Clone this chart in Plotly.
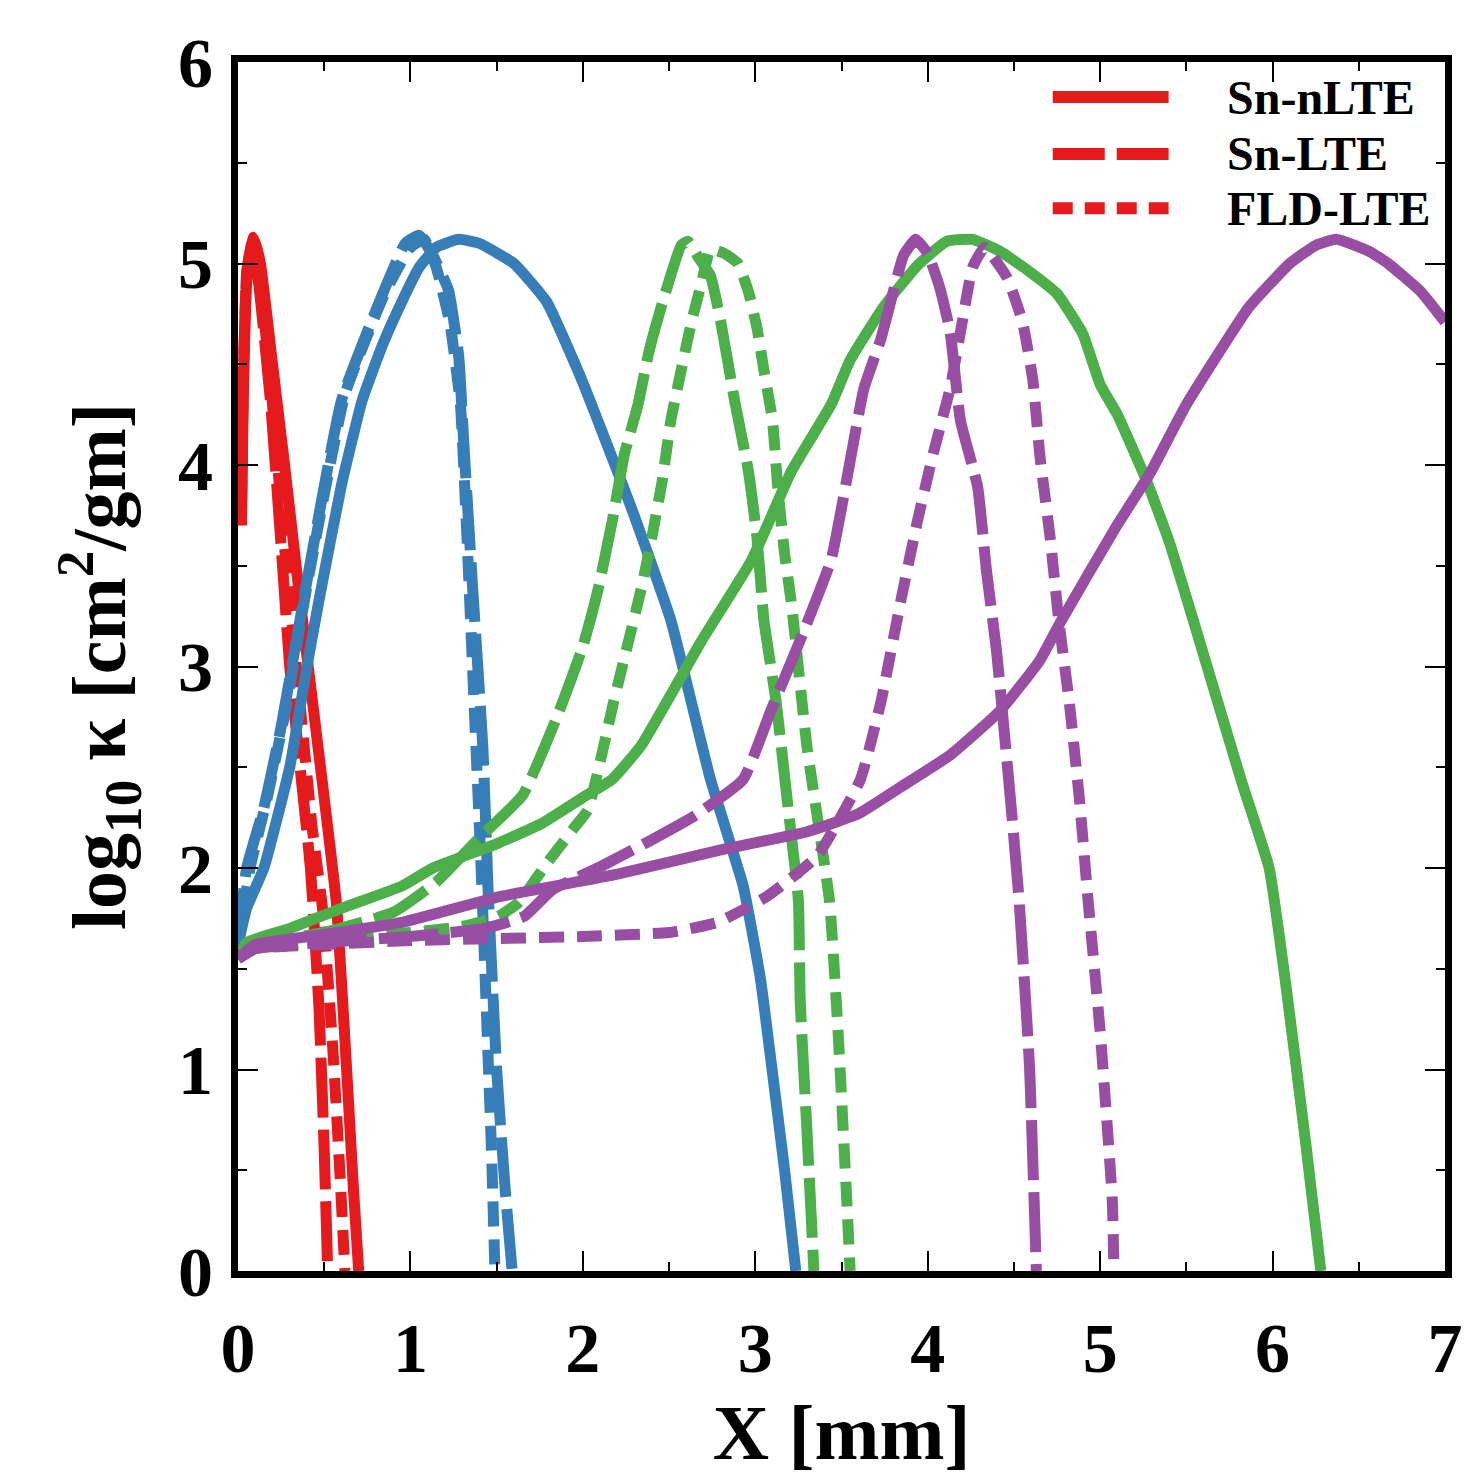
import plotly.graph_objects as go

# ---------------- data ----------------
red_solid_x = [0.02, 0.03, 0.05, 0.09, 0.13, 0.20, 0.27, 0.35, 0.45, 0.57, 0.63, 0.67, 0.70]
red_solid_y = [3.70, 4.30, 4.90, 5.13, 5.00, 4.50, 4.00, 3.40, 2.70, 1.83, 1.00, 0.40, 0.00]
red_dash_x = [0.02, 0.03, 0.05, 0.08, 0.12, 0.19, 0.25, 0.30, 0.36, 0.42, 0.47, 0.50, 0.52]
red_dash_y = [3.80, 4.40, 4.95, 5.10, 4.90, 4.30, 3.60, 3.00, 2.50, 2.00, 1.30, 0.60, 0.00]
red_dot_x = [0.02, 0.03, 0.05, 0.08, 0.13, 0.20, 0.28, 0.35, 0.43, 0.49, 0.55, 0.59, 0.62]
red_dot_y = [3.80, 4.40, 4.95, 5.10, 4.90, 4.30, 3.50, 2.90, 2.20, 1.80, 1.10, 0.50, 0.00]

blue_solid_x = [0.00, 0.05, 0.15, 0.30, 0.40, 0.47, 0.60, 0.72, 0.84, 0.95, 1.05, 1.15, 1.28, 1.40,
                1.60, 1.79, 1.99, 2.28, 2.51, 2.74, 2.93, 3.03, 3.09, 3.17, 3.235]
blue_solid_y = [1.62, 1.80, 2.00, 2.50, 3.00, 3.33, 3.90, 4.32, 4.60, 4.81, 4.98, 5.08, 5.12, 5.10,
                5.00, 4.81, 4.43, 3.79, 3.23, 2.44, 1.91, 1.45, 1.05, 0.50, 0.00]
blue_dash_x = [0.00, 0.05, 0.15, 0.25, 0.38, 0.60, 0.82, 0.97, 1.05, 1.13, 1.22, 1.28, 1.31, 1.36,
               1.42, 1.45, 1.50, 1.55, 1.59]
blue_dash_y = [1.60, 2.00, 2.30, 2.70, 3.33, 4.32, 4.81, 5.10, 5.14, 5.04, 4.87, 4.54, 4.10, 3.40,
               2.60, 1.90, 1.00, 0.40, 0.00]
blue_dot_x = [0.00, 0.07, 0.17, 0.28, 0.40, 0.62, 0.85, 1.00, 1.08, 1.15, 1.23, 1.29, 1.33, 1.37,
              1.41, 1.44, 1.47, 1.49]
blue_dot_y = [1.60, 2.00, 2.35, 2.80, 3.40, 4.35, 4.85, 5.08, 5.12, 4.98, 4.70, 4.30, 3.60, 2.80,
              2.00, 1.30, 0.60, 0.00]

green_solid_x = [0.00, 0.05, 0.30, 0.60, 0.95, 1.13, 1.50, 1.76, 2.00, 2.17, 2.34, 2.69, 2.98, 3.21,
                 3.44, 3.55, 3.74, 3.94, 4.11, 4.26, 4.42, 4.59, 4.75, 4.90, 5.00, 5.10, 5.27, 5.40,
                 5.54, 5.82, 5.98, 6.08, 6.19, 6.28]
green_solid_y = [1.55, 1.63, 1.70, 1.80, 1.91, 2.00, 2.12, 2.22, 2.35, 2.44, 2.61, 3.13, 3.53, 3.97,
                 4.30, 4.52, 4.78, 4.99, 5.11, 5.12, 5.06, 4.96, 4.85, 4.65, 4.40, 4.25, 3.92, 3.62,
                 3.23, 2.43, 2.00, 1.40, 0.65, 0.00]
green_dash_x = [0.00, 0.10, 0.50, 0.90, 1.15, 1.40, 1.65, 1.85, 2.00, 2.09, 2.17, 2.24, 2.32, 2.38,
                2.46, 2.57, 2.61, 2.67, 2.74, 2.80, 2.88, 2.96, 3.01, 3.05, 3.12, 3.19, 3.25, 3.26,
                3.30, 3.34]
green_dash_y = [1.55, 1.62, 1.68, 1.78, 1.93, 2.15, 2.36, 2.75, 3.10, 3.39, 3.72, 4.05, 4.30, 4.55,
                4.80, 5.09, 5.11, 5.03, 4.94, 4.71, 4.32, 3.97, 3.64, 3.23, 2.83, 2.30, 1.84, 1.35,
                0.69, 0.00]
green_dot_x = [0.00, 0.10, 0.50, 1.00, 1.30, 1.51, 1.63, 1.78, 1.95, 2.03, 2.18, 2.34, 2.40, 2.46,
               2.51, 2.57, 2.63, 2.69, 2.74, 2.82, 2.90, 2.96, 3.01, 3.05, 3.10, 3.13, 3.17, 3.21,
               3.30, 3.43, 3.48, 3.53, 3.55]
green_dot_y = [1.55, 1.60, 1.64, 1.68, 1.71, 1.76, 1.83, 2.01, 2.20, 2.29, 2.83, 3.39, 3.64, 3.92,
               4.22, 4.47, 4.71, 4.91, 5.07, 5.05, 5.00, 4.86, 4.68, 4.47, 4.22, 3.89, 3.56, 3.31,
               2.60, 1.84, 1.19, 0.36, 0.00]

purple_solid_x = [0.00, 0.10, 0.50, 0.95, 1.53, 2.20, 2.80, 3.30, 3.60, 3.84, 4.13, 4.42, 4.65, 4.77,
                  5.09, 5.29, 5.50, 5.86, 6.10, 6.25, 6.37, 6.56, 6.67, 6.86, 7.00]
purple_solid_y = [1.55, 1.62, 1.67, 1.73, 1.86, 1.97, 2.09, 2.18, 2.27, 2.40, 2.56, 2.78, 3.03, 3.22,
                  3.69, 3.96, 4.30, 4.78, 5.00, 5.09, 5.12, 5.06, 5.00, 4.86, 4.71]
purple_dash_x = [0.00, 0.10, 0.50, 1.00, 1.43, 1.66, 1.82, 2.11, 2.40, 2.65, 2.93, 3.09, 3.26, 3.44,
                 3.55, 3.63, 3.73, 3.86, 3.93, 4.00, 4.07, 4.13, 4.19, 4.29, 4.34, 4.40, 4.48, 4.53,
                 4.59, 4.63]
purple_dash_y = [1.55, 1.60, 1.63, 1.66, 1.70, 1.76, 1.89, 2.01, 2.14, 2.26, 2.44, 2.78, 3.13, 3.53,
                 4.02, 4.38, 4.63, 5.04, 5.12, 5.05, 4.88, 4.66, 4.22, 3.89, 3.48, 3.07, 2.34, 1.84,
                 1.02, 0.00]
purple_dot_x = [0.00, 0.10, 0.50, 1.00, 1.50, 2.00, 2.50, 2.78, 3.07, 3.36, 3.61, 3.73, 3.84, 3.94,
                4.03, 4.13, 4.19, 4.26, 4.33, 4.46, 4.55, 4.61, 4.65, 4.71, 4.76, 4.82, 4.88, 4.93,
                5.00, 5.07, 5.08]
purple_dot_y = [1.55, 1.60, 1.62, 1.64, 1.65, 1.66, 1.68, 1.73, 1.86, 2.06, 2.44, 2.83, 3.31, 3.72,
                4.05, 4.38, 4.66, 4.98, 5.08, 4.93, 4.71, 4.42, 4.05, 3.64, 3.23, 2.83, 2.34, 1.84,
                1.19, 0.36, 0.00]

legend_labels = ["Sn-nLTE", "Sn-LTE", "FLD-LTE"]
x_ticks = [0, 1, 2, 3, 4, 5, 6, 7]
y_ticks = [0, 1, 2, 3, 4, 5, 6]

# ---------------- style ----------------
RED, BLUE, GREEN, PURPLE = "#E41A1C", "#377EB8", "#4DAF4A", "#984EA3"
DASH = "60px,12px"
DOT = "25px,13px"
LW = 11
FONT = "Liberation Serif"

series = [
    (red_solid_x, red_solid_y, RED, "solid"),
    (red_dash_x, red_dash_y, RED, DASH),
    (red_dot_x, red_dot_y, RED, DOT),
    (blue_solid_x, blue_solid_y, BLUE, "solid"),
    (blue_dash_x, blue_dash_y, BLUE, DASH),
    (blue_dot_x, blue_dot_y, BLUE, DOT),
    (green_solid_x, green_solid_y, GREEN, "solid"),
    (green_dash_x, green_dash_y, GREEN, DASH),
    (green_dot_x, green_dot_y, GREEN, DOT),
    (purple_solid_x, purple_solid_y, PURPLE, "solid"),
    (purple_dash_x, purple_dash_y, PURPLE, DASH),
    (purple_dot_x, purple_dot_y, PURPLE, DOT),
]

fig = go.Figure()
for xs, ys, col, dash in series:
    fig.add_trace(go.Scatter(x=xs, y=ys, mode="lines",
                             line=dict(color=col, width=LW, dash=dash,
                                       shape="spline", smoothing=0.4),
                             showlegend=False, hoverinfo="skip"))

axis_common = dict(
    showgrid=False, zeroline=False,
    showline=True, linecolor="black", linewidth=7, mirror="ticks",
    ticks="inside", ticklen=20, tickwidth=2, tickcolor="black",
    minor=dict(ticks="inside", ticklen=9, tickwidth=2, tickcolor="black", dtick=0.5),
    tickfont=dict(family=FONT, size=70, color="black", weight="bold"),
)

fig.update_xaxes(range=[0, 7], tickvals=x_ticks, ticktext=[str(v) for v in x_ticks],
                 ticklabelstandoff=10,
                 title=dict(text="X [mm]", standoff=22,
                            font=dict(family=FONT, size=78, color="black", weight="bold")),
                 **axis_common)
fig.update_yaxes(range=[0, 6], tickvals=y_ticks, ticktext=[str(v) for v in y_ticks],
                 ticklabelstandoff=4,
                 title=dict(text="log<sub>10</sub> κ [cm<sup>2</sup>/gm]", standoff=30,
                            font=dict(family=FONT, size=76, color="black", weight="bold")),
                 **axis_common)

# legend (drawn in paper coordinates, upper right)
leg_y = [0.971, 0.924, 0.879]
leg_dash = ["solid", "52px,12px", "20px,12px"]
for lab, yy, dd in zip(legend_labels, leg_y, leg_dash):
    fig.add_shape(type="line", xref="paper", yref="paper", x0=0.675, x1=0.771, y0=yy, y1=yy,
                  line=dict(color=RED, width=12, dash=dd))
    fig.add_annotation(xref="paper", yref="paper", x=0.818, y=yy, text=lab, showarrow=False,
                       xanchor="left", yanchor="middle",
                       font=dict(family=FONT, size=48, color="black", weight="bold"))

fig.update_layout(
    width=1476, height=1476,
    margin=dict(l=238, r=31, t=62, b=205),
    paper_bgcolor="white", plot_bgcolor="white",
    font=dict(family=FONT, color="black"),
)

fig.write_html("out.html")
